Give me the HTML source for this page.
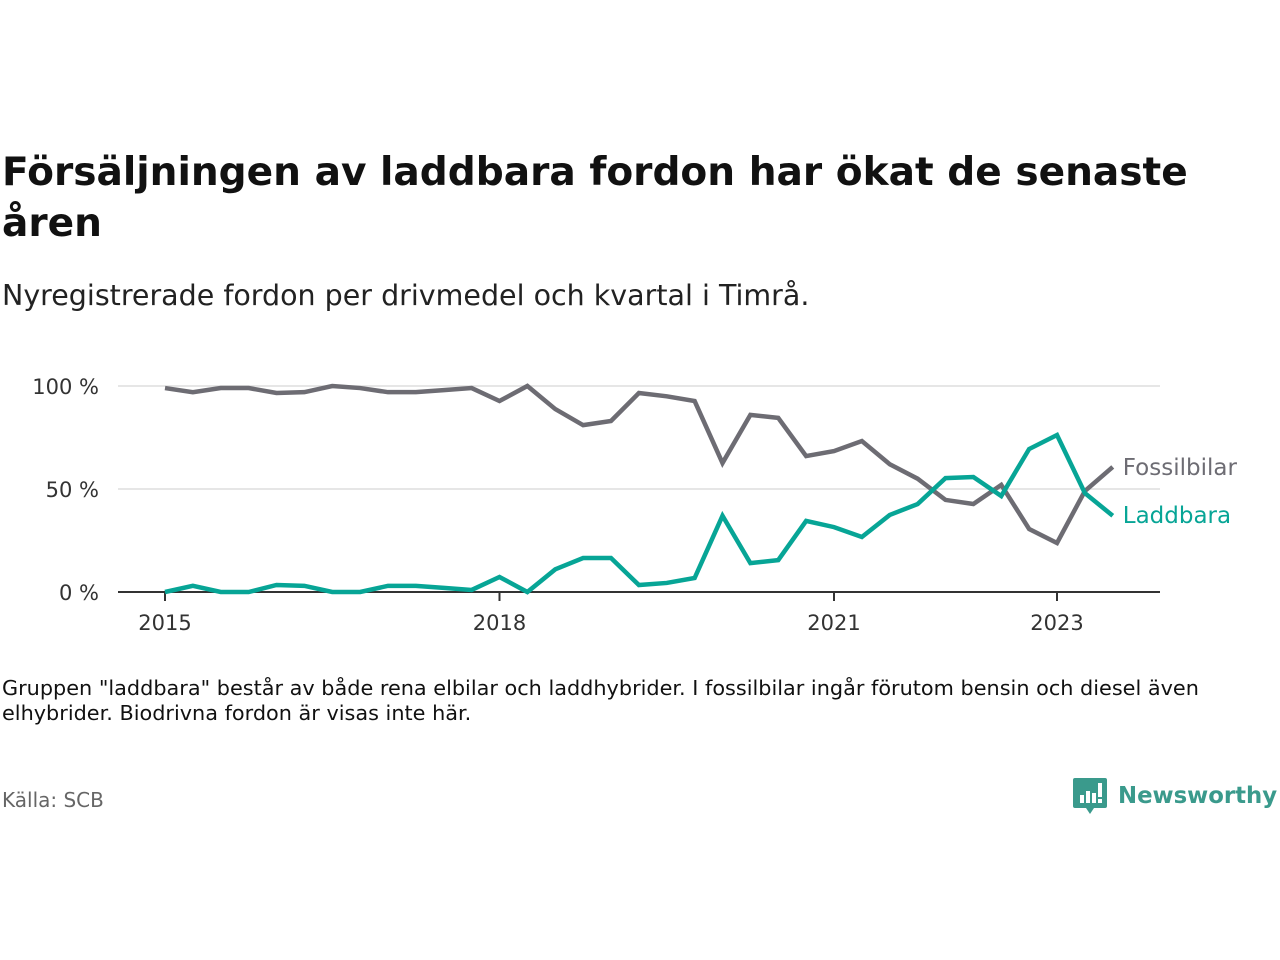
<!DOCTYPE html>
<html><head><meta charset="utf-8"><style>
body{margin:0;width:1280px;height:960px;background:#fff;font-family:"DejaVu Sans","Liberation Sans",sans-serif;overflow:hidden;position:relative}
.t{position:absolute;left:2px;top:147px;font-size:39.1px;font-weight:bold;color:#111;line-height:51px;width:1270px}
.s{position:absolute;left:2px;top:279px;font-size:28.5px;color:#222}
.n{position:absolute;left:2px;top:676px;font-size:20.8px;color:#111;line-height:25px;width:1215px}
.src{position:absolute;left:2px;top:788px;font-size:20px;color:#666}
.logo{position:absolute;left:1072px;top:776px;display:flex;align-items:center}
.logo span{font-size:22.8px;font-weight:bold;color:#3a9a8c;margin-left:10px;white-space:nowrap}
</style></head><body>
<div class="t">Försäljningen av laddbara fordon har ökat de senaste åren</div>
<div class="s">Nyregistrerade fordon per drivmedel och kvartal i Timrå.</div>
<svg id="c" width="1280" height="960" style="position:absolute;left:0;top:0"></svg>
<div class="n">Gruppen "laddbara" består av både rena elbilar och laddhybrider. I fossilbilar ingår förutom bensin och diesel även elhybrider. Biodrivna fordon är visas inte här.</div>
<div class="src">Källa: SCB</div>
<div class="logo">
<svg width="36" height="40" viewBox="0 0 36 40"><path d="M3 2h30a2 2 0 0 1 2 2v26a2 2 0 0 1-2 2H22l-4 6-4-6H3a2 2 0 0 1-2-2V4a2 2 0 0 1 2-2z" fill="#3a9a8c"/><rect x="8" y="19" width="4" height="8" fill="#fff"/><rect x="14" y="15" width="4" height="12" fill="#fff"/><rect x="20" y="17" width="4" height="10" fill="#fff"/><rect x="26" y="7" width="4" height="14" fill="#fff"/><rect x="26" y="23" width="4" height="4" fill="#fff"/></svg>
<span>Newsworthy</span></div>
<script>
const fossil=[99,97,99,99,96.6,97,100,99,97,97,98,99,92.7,100,88.8,81,83,96.6,95,92.7,62.6,86,84.5,66,68.4,73.3,62,55,44.7,42.7,52,30.6,23.8,49,60.7];
const laddbara=[0,3,0,0,3.4,3,0,0,3,3,2,1,7.3,0,11,16.5,16.5,3.4,4.4,6.8,37,14,15.5,34.5,31.5,26.7,37.4,42.7,55.3,55.8,46.6,69.4,76.2,48,37];
const startYear=2015;
const yTicks=[0,50,100];
const xTickYears=[2015,2018,2021,2023];
const svg=document.getElementById('c');const NS='http://www.w3.org/2000/svg';
const x0=165,qw=(834-165)/24;
const xs=i=>x0+i*qw;
const xy=yr=>x0+(yr-startYear)*4*qw;
const ys=v=>592-v*2.06;
function el(t,a,txt){const e=document.createElementNS(NS,t);for(const k in a)e.setAttribute(k,a[k]);if(txt!=null)e.textContent=txt;svg.appendChild(e);return e;}
yTicks.forEach(v=>{
 const g=el('line',{x1:118,x2:1160,y1:ys(v),y2:ys(v),stroke:v===0?'#333':'#ddd','stroke-width':v===0?2:1.5});
 
 
 const t=el('text',{x:99,y:ys(v)+8,'text-anchor':'end','font-size':21,fill:'#333','font-family':'DejaVu Sans, sans-serif'},v+' %');
 
 
});
xTickYears.forEach(yr=>{
 const x=xy(yr);
 const l=el('line',{x1:x,x2:x,y1:592,y2:601,stroke:'#333','stroke-width':2});
 
 
 const t=el('text',{x:x,y:630,'text-anchor':'middle','font-size':21,fill:'#333','font-family':'DejaVu Sans, sans-serif'},yr);
 
 
});
function series(d,col,name,label,dy){
 const p=el('polyline',{points:d.map((v,i)=>xs(i)+','+ys(v)).join(' '),fill:'none',stroke:col,'stroke-width':4.5,'stroke-linejoin':'miter'});
 
 
 const n=d.length-1;
 const t=el('text',{x:xs(n)+10,y:ys(d[n])+dy,'font-size':23,fill:col,'font-family':'DejaVu Sans, sans-serif'},label);
 
 
}
series(fossil,'#6d6c73','fossilbilar','Fossilbilar',8);
series(laddbara,'#07a596','laddbara','Laddbara',7);
</script>
</body></html>
